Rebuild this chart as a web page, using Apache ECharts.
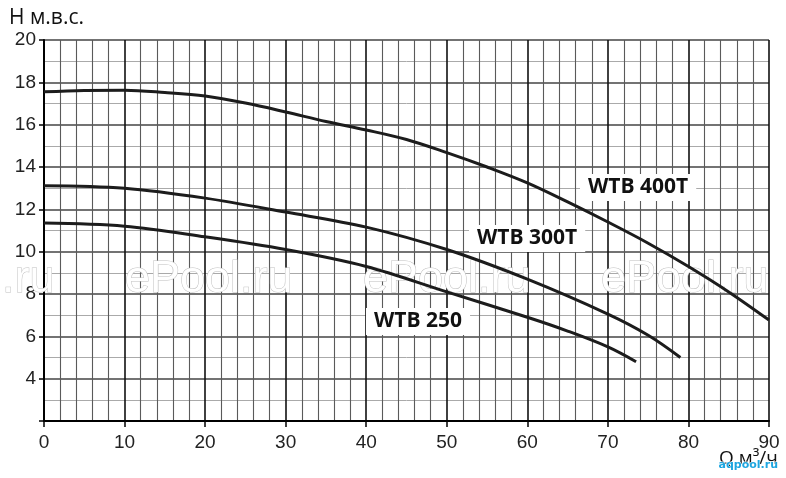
<!DOCTYPE html>
<html>
<head>
<meta charset="utf-8">
<script src="https://cdn.jsdelivr.net/npm/echarts@6/dist/echarts.min.js"></script>
<style>
html,body{margin:0;padding:0;background:#fff;}
#c{width:786px;height:478px;}
</style>
</head>
<body>
<div id="c"></div>
<script>
// Flow Q (m3/h) and head H (m)
const q400 = [0, 5, 10, 15, 20, 25, 30, 35, 40, 45, 50, 55, 60, 65, 70, 75, 80, 85, 90];
const h400 = [17.55, 17.62, 17.63, 17.52, 17.35, 17.02, 16.6, 16.15, 15.75, 15.3, 14.68, 14.0, 13.25, 12.35, 11.4, 10.4, 9.3, 8.1, 6.77];
const q300 = [0, 10, 20, 30, 40, 50, 60, 70, 75, 79];
const h300 = [13.12, 13.0, 12.53, 11.87, 11.16, 10.1, 8.7, 7.05, 6.05, 5.0];
const q250 = [0, 10, 20, 30, 40, 50, 60, 65, 70, 73.5];
const h250 = [11.35, 11.2, 10.7, 10.1, 9.3, 8.1, 6.9, 6.25, 5.5, 4.8];
const seriesNames = ['WTB 400T', 'WTB 300T', 'WTB 250'];
const yTitle = 'Н м.в.с.';
const xTitle = 'Q м³/ч';
const watermark = 'ePool.ru';
const logo = 'aqpool.ru';

const pair = (xs, ys) => xs.map((x, i) => [x, ys[i]]);
const lineStyle = {color: '#1c1c1c', width: 3};
const mkSeries = (name, data) => ({
  name, type: 'line', data, smooth: 0.35, showSymbol: false, symbol: 'none',
  lineStyle, z: 5, silent: true, animation: false
});

const chart = echarts.init(document.getElementById('c'), null, {renderer: 'canvas'});
const axisFont = {fontFamily: '"Liberation Sans", sans-serif', fontSize: 19, color: '#222'};
const labelBox = (text, left, top) => ({
  type: 'text', left, top, z: 20,
  style: {text, fontFamily: '"Open Sans", sans-serif', fontWeight: 'bold', fontSize: 21, fill: '#111',
          backgroundColor: '#fff', padding: [3, 8]}
});
const wm = (x) => ({
  type: 'text', x, y: 257, z: 1,
  style: {text: watermark, fontFamily: '"Liberation Sans", Arial, sans-serif', fontSize: 45,
          fill: '#fff', stroke: '#c0c0c0', lineWidth: 1}
});

chart.setOption({
  animation: false,
  backgroundColor: '#fff',
  grid: {left: 44, right: 17, top: 40, bottom: 57, containLabel: false},
  xAxis: {
    type: 'value', min: 0, max: 90, interval: 10,
    axisLine: {show: true, lineStyle: {color: '#000', width: 2}},
    axisTick: {show: true, length: 6, lineStyle: {color: '#000', width: 1.5}},
    axisLabel: Object.assign({margin: 12}, axisFont),
    splitLine: {show: true, lineStyle: {color: '#111', width: 1.6}},
    minorTick: {show: false, splitNumber: 5},
    minorSplitLine: {show: true, lineStyle: {color: '#5a5a5a', width: 1.1}}
  },
  yAxis: {
    type: 'value', min: 2, max: 20, interval: 2,
    axisLine: {show: true, onZero: false, lineStyle: {color: '#000', width: 2}},
    axisTick: {show: true, length: 5, lineStyle: {color: '#000', width: 1.5}},
    axisLabel: Object.assign({margin: 8, formatter: v => (v === 2 ? '' : String(v))}, axisFont),
    splitLine: {show: true, lineStyle: {color: '#444', width: 1.6}},
    minorTick: {show: false, splitNumber: 2},
    minorSplitLine: {show: true, lineStyle: {color: '#aaa', width: 1}}
  },
  series: [
    mkSeries(seriesNames[0], pair(q400, h400)),
    mkSeries(seriesNames[1], pair(q300, h300)),
    mkSeries(seriesNames[2], pair(q250, h250))
  ],
  graphic: [
    wm(-113), wm(125), wm(363), wm(601),
    {type: 'text', left: 9, top: 8, z: 20,
     style: {text: yTitle, fontFamily: '"Open Sans", sans-serif', fontSize: 21, fill: '#111'}},
    {type: 'text', left: 719, top: 449, z: 20,
     style: {text: xTitle, fontFamily: '"Open Sans", sans-serif', fontSize: 19, fill: '#111'}},
    {type: 'text', left: 718, top: 459, z: 21,
     style: {text: logo, fontFamily: '"DejaVu Sans", sans-serif', fontWeight: 'bold', fontSize: 11,
             fill: '#1ea6e0', stroke: '#fff', lineWidth: 1}},
    labelBox(seriesNames[0], 580, 174),
    labelBox(seriesNames[1], 469, 225),
    labelBox(seriesNames[2], 366, 308)
  ]
});
</script>
</body>
</html>
